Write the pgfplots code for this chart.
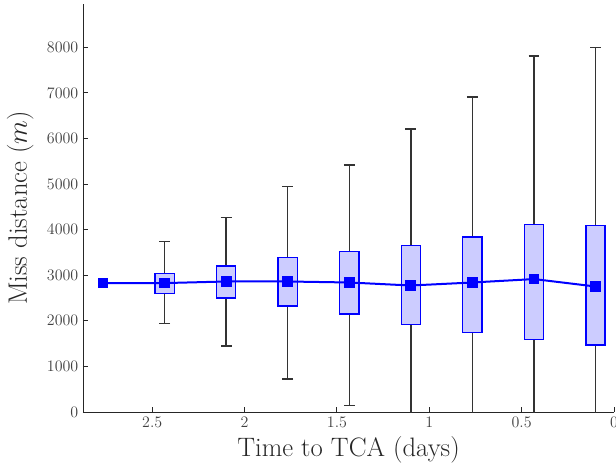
\documentclass[border=0pt]{standalone}
\usepackage{pgfplots}
\usepackage{pgfplotstable}
\pgfplotsset{compat=1.18}
\definecolor{BoxFill}{rgb}{0.8,0.8,1}
\definecolor{AxGray}{rgb}{0.15,0.15,0.15}
\definecolor{Whisk}{rgb}{0.2,0.2,0.2}

% t = time to TCA, med = median, q1/q3 = quartiles, lw/uw = whisker ends
\pgfplotstableread{
t      med   q1    q3    lw    uw
2.433  2828  2600  3040  1938  3745
2.100  2863  2498  3203  1447  4260
1.767  2863  2322  3386   727  4943
1.433  2841  2152  3524   148  5419
1.100  2775  1916  3650  -300  6205
0.767  2841  1749  3841  -300  6910
0.433  2916  1595  4106  -300  7812
0.100  2753  1469  4097  -300  7996
}\boxdata

\pgfplotsset{mbox/.style={draw=blue, fill=BoxFill, line width=1pt}}

\begin{document}
\begin{tikzpicture}
  \begin{axis}[
    at={(0,0)}, anchor=south west,
    scale only axis,
    width=398.25pt, height=306pt,
    x dir=reverse,
    xmin=0, xmax=2.875,
    ymin=0, ymax=8950,
    axis x line*=bottom,
    axis y line*=left,
    axis line style={AxGray, line width=0.7pt},
    tick align=inside,
    major tick length=3.5pt,
    tick style={AxGray, line width=0.7pt},
    xtick={0,0.5,1,1.5,2,2.5},
    ytick={0,1000,...,8000},
    scaled y ticks=false,
    /pgf/number format/1000 sep={},
    tick label style={font=\fontsize{11.5}{13}\selectfont, text=black!75},
    xlabel={Time to TCA (days)},
    ylabel={Miss distance ($m$)},
    label style={font=\fontsize{20}{24}\selectfont, text=black!85},
    xlabel style={at={(axis description cs:0.5,-0.093)}, anchor=center},
    ylabel style={at={(axis description cs:-0.118,0.5)}, anchor=center},
  ]
    % whiskers
    \addplot[only marks, mark=none,
      error bars/.cd, y dir=both, y explicit,
      error bar style={draw=Whisk, line width=1pt},
      error mark options={draw=Whisk, line width=1pt, mark size=4.1pt, rotate=90}]
      table[x=t, y=med,
        y error plus expr=\thisrow{uw}-\thisrow{med},
        y error minus expr=\thisrow{med}-\thisrow{lw}] {\boxdata};
    % boxes (q1 to q3, width 0.104 days)
    \addplot[mbox] coordinates {(2.381,2600) (2.485,2600) (2.485,3040) (2.381,3040)} -- cycle;
    \addplot[mbox] coordinates {(2.048,2498) (2.152,2498) (2.152,3203) (2.048,3203)} -- cycle;
    \addplot[mbox] coordinates {(1.715,2322) (1.819,2322) (1.819,3386) (1.715,3386)} -- cycle;
    \addplot[mbox] coordinates {(1.381,2152) (1.485,2152) (1.485,3524) (1.381,3524)} -- cycle;
    \addplot[mbox] coordinates {(1.048,1916) (1.152,1916) (1.152,3650) (1.048,3650)} -- cycle;
    \addplot[mbox] coordinates {(0.715,1749) (0.819,1749) (0.819,3841) (0.715,3841)} -- cycle;
    \addplot[mbox] coordinates {(0.381,1595) (0.485,1595) (0.485,4106) (0.381,4106)} -- cycle;
    \addplot[mbox] coordinates {(0.048,1469) (0.152,1469) (0.152,4097) (0.048,4097)} -- cycle;
    % medians
    \addplot[blue, line width=1.5pt, mark=square*, mark size=3.3pt,
      mark options={fill=blue, draw=blue}]
      coordinates {
        (2.767,2828) (2.433,2828) (2.100,2863) (1.767,2863) (1.433,2841)
        (1.100,2775) (0.767,2841) (0.433,2916) (0.100,2753)
      };
  \end{axis}
  \pgfresetboundingbox
  \path[use as bounding box] (-62.25pt,-42.75pt) rectangle (399.75pt,309pt);
\end{tikzpicture}
\end{document}
